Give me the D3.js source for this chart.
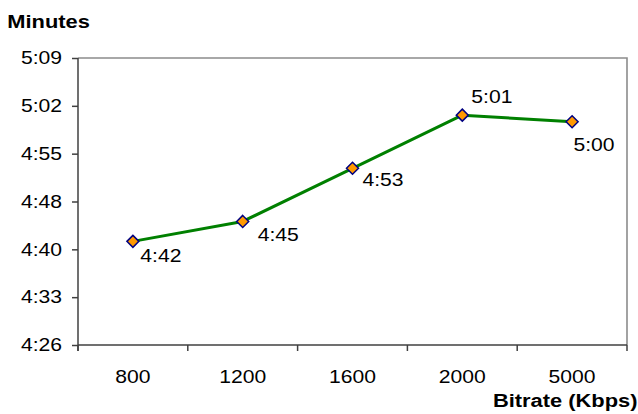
<!DOCTYPE html>
<html>
<head>
<meta charset="utf-8">
<script src="https://cdn.jsdelivr.net/npm/d3@7"></script>
<style>
  html, body { margin: 0; padding: 0; background: #fff; }
  svg { display: block; }
  text { font-family: "Liberation Sans", Arial, sans-serif; fill: #000; }
</style>
</head>
<body>
<svg id="chart" width="638" height="414"></svg>
<script>
// Bitrate categories and playback length in seconds
const bitrates = ["800", "1200", "1600", "2000", "5000"];
const durations = [282, 285, 293, 301, 300];
// y tick values in seconds (Excel-style 7.2 s spacing)
const yTicks = [266.4, 273.6, 280.8, 288, 295.2, 302.4, 309.6];
const yDomain = [266.4, 309.6];

// label nudges (left x / baseline offsets from each marker)
const labelOffsets = [[7.4, 21], [15, 19.7], [10, 17.7], [9, -12.6], [1.3, 29]];

const W = 638, H = 414;
const m = { left: 78, right: 11, top: 58, bottom: 69 };
const FS = 18.7;      // font size
const SX = 1.13;      // horizontal stretch of regular text
const SXB = 1.17;     // horizontal stretch of bold titles

const fmt = s => {
  const t = Math.floor(s + 1e-6);
  const mm = Math.floor(t / 60), ss = t % 60;
  return mm + ":" + String(ss).padStart(2, "0");
};

const svg = d3.select("#chart");
const x = d3.scaleBand().domain(bitrates).range([m.left, W - m.right]);
const y = d3.scaleLinear().domain(yDomain).range([H - m.bottom, m.top]);

// plot frame: top and right in grey
svg.append("path")
  .attr("d", `M${m.left},${m.top}H${W - m.right}V${H - m.bottom}`)
  .attr("fill", "none").attr("stroke", "#8c8c8c").attr("stroke-width", 1.6);

// y axis
const gy = svg.append("g").attr("transform", `translate(${m.left},0)`)
  .call(d3.axisLeft(y).tickValues(yTicks).tickFormat(fmt).tickSize(6).tickPadding(16 / SX - 6));
gy.selectAll("path, line").attr("stroke", "#404040").attr("stroke-width", 1.5);
gy.select(".domain").attr("d", `M0,${m.top}V${H - m.bottom + 6}`);
gy.selectAll("text").attr("font-size", FS).attr("font-family", null)
  .attr("transform", `scale(${SX},1)`).attr("dy", "0.31em");

// x axis: category labels at band centres
const gx = svg.append("g").attr("transform", `translate(0,${H - m.bottom})`)
  .call(d3.axisBottom(x).tickSize(0).tickPadding(24.4));
gx.select(".domain").attr("d", `M${m.left},0H${W - m.right}`)
  .attr("stroke", "#404040").attr("stroke-width", 1.5);
gx.selectAll("text").attr("font-size", FS).attr("font-family", null)
  .attr("transform", `scale(${SX},1)`);
// tick marks on the band boundaries
const bounds = bitrates.map(d => x(d)).concat([x(bitrates[bitrates.length - 1]) + x.bandwidth()]);
gx.selectAll("line.bound").data(bounds).join("line")
  .attr("class", "bound")
  .attr("x1", d => d).attr("x2", d => d).attr("y1", 0).attr("y2", 6)
  .attr("stroke", "#404040").attr("stroke-width", 1.5);

// axis titles
function stretchedText(px, py, str, anchor) {
  return svg.append("text")
    .attr("transform", `translate(${px},${py}) scale(${SXB},1)`)
    .attr("text-anchor", anchor)
    .attr("font-size", FS).attr("font-weight", "bold").text(str);
}
stretchedText(7.3, 28.3, "Minutes", "start");
stretchedText(637.5, 407.3, "Bitrate (Kbps)", "end");

// data series
const pts = bitrates.map((b, i) => ({ b, v: durations[i], px: x(b) + x.bandwidth() / 2, py: y(durations[i]) }));
svg.append("path")
  .datum(pts)
  .attr("d", d3.line().x(d => d.px).y(d => d.py))
  .attr("fill", "none").attr("stroke", "#008000").attr("stroke-width", 3)
  .attr("stroke-linejoin", "round");

const r = 6;
svg.selectAll("path.marker").data(pts).join("path")
  .attr("class", "marker")
  .attr("d", d => `M${d.px},${d.py - r}L${d.px + r},${d.py}L${d.px},${d.py + r}L${d.px - r},${d.py}Z`)
  .attr("fill", "#ff9900").attr("stroke", "#000080").attr("stroke-width", 1.5);

// value labels
svg.selectAll("text.val").data(pts).join("text")
  .attr("class", "val")
  .attr("transform", (d, i) => `translate(${d.px + labelOffsets[i][0]},${d.py + labelOffsets[i][1]}) scale(${SX},1)`)
  .attr("font-size", FS)
  .text(d => fmt(d.v));
</script>
</body>
</html>
